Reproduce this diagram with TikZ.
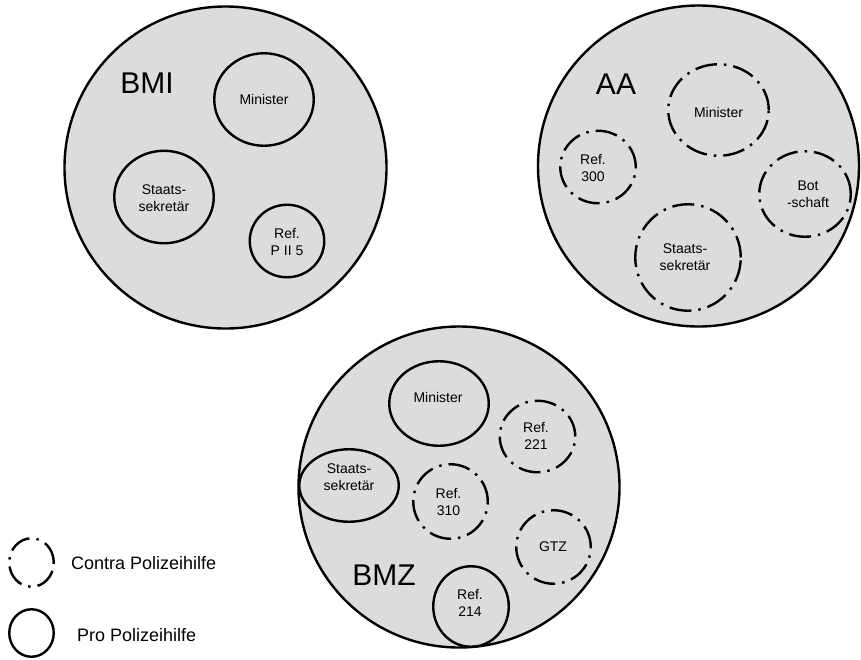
\documentclass[tikz,border=0pt]{standalone}
\usepackage{fontspec}
\setmainfont{Liberation Sans}
\usetikzlibrary{shapes.geometric}
\definecolor{dept}{RGB}{220,220,220}
\begin{document}
\begin{tikzpicture}[x=1pt,y=-1pt,
  dept/.style={circle, draw=black, fill=dept, line width=2.4pt, inner sep=0pt, outer sep=0pt, minimum size=#1},
  unit/.style={ellipse, draw=black, line width=2.4pt, inner sep=0pt, outer sep=0pt},
  pro/.style={unit},
  contra/.style={unit, dash pattern=on 22pt off 7pt on 2.5pt off 7pt},
  lbl/.style={align=center, font=\fontsize{14}{17}\selectfont, inner sep=0pt},
  big/.style={font=\fontsize{30}{32}\selectfont, inner sep=0pt},
  leg/.style={font=\fontsize{18}{20}\selectfont, inner sep=0pt, anchor=west}]
\useasboundingbox (0,0) rectangle (861,659);

% departments
\node[dept=322] (bmi) at (225.5,167.5) {};
\node[dept=321] (aa) at (698.5,166) {};
\node[dept=321] (bmz) at (459,487) {};

\node[big] (bmit) at (147,83) {BMI};
\node[big] (aat) at (616,84) {AA};
\node[big] (bmzt) at (384,575) {BMZ};

% BMI
\node[pro, minimum width=99.5pt, minimum height=92.5pt] (bmimin) at (264,99.5) {};
\node[lbl] at (bmimin) {Minister};
\node[pro, minimum width=99.5pt, minimum height=92.5pt] (bmista) at (164,197) {};
\node[lbl] at (164,198) {Staats-\\sekretär};
\node[pro, minimum width=74.5pt, minimum height=72.5pt] (bmiref) at (287,241) {};
\node[lbl] at (287,241.5) {Ref.\\P II 5};

% AA
\node[contra, minimum width=100.5pt, minimum height=91.5pt] (aamin) at (718.5,110) {};
\node[lbl] at (718.5,112) {Minister};
\node[contra, minimum width=75.5pt, minimum height=72.5pt] (aaref) at (598,167) {};
\node[lbl] at (593,167.5) {Ref.\\300};
\node[contra, minimum width=91.5pt, minimum height=85.5pt] (aabot) at (805,194) {};
\node[lbl] at (808,194) {Bot\\-schaft};
\node[contra, minimum width=105.5pt, minimum height=106.5pt] (aasta) at (688,257.5) {};
\node[lbl] at (685,257.5) {Staats-\\sekretär};

% BMZ
\node[pro, minimum width=99.5pt, minimum height=84.5pt] (bmzmin) at (439,403.5) {};
\node[lbl] at (438,397) {Minister};
\node[contra, minimum width=75.5pt, minimum height=71.5pt] (bmz221) at (537.5,436.5) {};
\node[lbl] at (536,436) {Ref.\\221};
\node[pro, minimum width=99.5pt, minimum height=72.5pt] (bmzsta) at (349,485.5) {};
\node[lbl] at (349,477) {Staats-\\sekretär};
\node[contra, minimum width=74.5pt, minimum height=74.5pt] (bmz310) at (450.5,501.5) {};
\node[lbl] at (448.5,501.5) {Ref.\\310};
\node[contra, minimum width=74.5pt, minimum height=73.5pt] (bmzgtz) at (553.5,547) {};
\node[lbl] at (553,547) {GTZ};
\node[pro, minimum width=75.5pt, minimum height=80.5pt] (bmz214) at (471,606.5) {};
\node[lbl] at (470,602.5) {Ref.\\214};

% legend
\node[contra, minimum width=44.5pt, minimum height=48.5pt] (legc) at (31.5,562.5) {};
\node[leg] (legct) at (71,563) {Contra Polizeihilfe};
\node[pro, minimum width=44.5pt, minimum height=47.5pt] (legp) at (31.5,633) {};
\node[leg] (legpt) at (77,635) {Pro Polizeihilfe};
\end{tikzpicture}
\end{document}
